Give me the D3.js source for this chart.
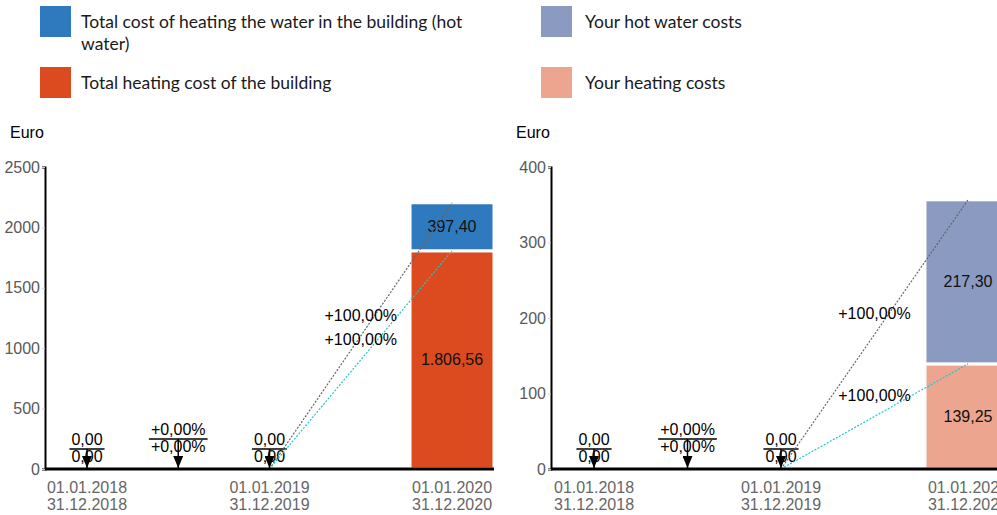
<!DOCTYPE html>
<html>
<head>
<meta charset="utf-8">
<script src="https://cdn.jsdelivr.net/npm/d3@7"></script>
<style>
  body { margin: 0; background: #fff; }
  svg { display: block; }
</style>
</head>
<body>
<div id="chart"></div>
<script>
// Periods on the x axis (two lines per label)
var periodStart = ["01.01.2018", "01.01.2019", "01.01.2020"];
var periodEnd = ["31.12.2018", "31.12.2019", "31.12.2020"];

// Building totals (Euro)
var buildingHeating = [0, 0, 1806.56];
var buildingHotWater = [0, 0, 397.40];

// Your share (Euro)
var yourHeating = [0, 0, 139.25];
var yourHotWater = [0, 0, 217.30];

// Change from one period to the next
var changeTotal = ["+0,00%", "+100,00%"];
var changeHeating = ["+0,00%", "+100,00%"];

// Y ticks
var buildingTicks = [0, 500, 1000, 1500, 2000, 2500];
var yourTicks = [0, 100, 200, 300, 400];

// Legend
var legendLeft = [
    ["Total cost of heating the water in the building (hot", "water)"],
    ["Total heating cost of the building"]
];
var legendRight = [["Your hot water costs"], ["Your heating costs"]];

var width = 997, height = 515;
var axisFamily = "'Liberation Sans', Arial, Helvetica, sans-serif";

var de = d3.formatLocale({decimal: ",", thousands: ".", grouping: [3], currency: ["", " €"]});
var money = de.format(",.2f");

var svg = d3.select("#chart").append("svg")
    .attr("width", width)
    .attr("height", height);

// apply the chart's text style
function axisText(sel, color) {
    return sel.attr("font-family", axisFamily)
        .attr("font-size", 16)
        .style("font-family", axisFamily)
        .style("font-size", "16px")
        .style("fill", color || "#000");
}

// arrow head used by the zero markers
svg.append("defs").append("marker")
    .attr("id", "arrow")
    .attr("viewBox", "0 0 12 10")
    .attr("refX", 12)
    .attr("refY", 5)
    .attr("markerWidth", 12)
    .attr("markerHeight", 10)
    .attr("markerUnits", "userSpaceOnUse")
    .attr("orient", "auto")
    .append("path")
    .attr("d", "M0,0L12,5L0,10Z")
    .attr("fill", "#000");

// ---- legend ----
function drawLegend(x, gap, labels, colors) {
    var rowY = [6, 67];
    labels.forEach(function(lines, i) {
        svg.append("rect")
            .attr("x", x)
            .attr("y", rowY[i])
            .attr("width", 31)
            .attr("height", 31)
            .attr("fill", colors[i]);
        var t = svg.append("text")
            .attr("x", x + gap)
            .attr("y", rowY[i] + 22)
            .style("font-family", "Lato, 'Noto Sans', sans-serif")
            .style("font-size", "17.5px")
            .style("fill", "#1a1a1a");
        lines.forEach(function(l, j) {
            t.append("tspan")
                .attr("x", x + gap)
                .attr("dy", j === 0 ? 0 : 22)
                .text(l);
        });
    });
}
drawLegend(40, 41, legendLeft, ["#2f7abf", "#dc4a1f"]);
drawLegend(541, 44, legendRight, ["#8a9ac0", "#eca58f"]);

// ---- charts ----
var slots = ["p0", "c0", "p1", "c1", "p2"];
var periodSlots = ["p0", "p1", "p2"];

function drawChart(opt) {
    var heating = opt.heating, hot = opt.hot;
    var totals = heating.map(function(h, i) { return h + hot[i]; });

    var y = d3.scaleLinear()
        .domain([0, d3.max(opt.ticks)])
        .range([469, 167]);
    var x = d3.scaleBand()
        .domain(slots)
        .range(opt.xRange)
        .paddingInner(0.08)
        .paddingOuter(0);
    var cx = function(s) { return x(s) + x.bandwidth() / 2; };

    var g = svg.append("g");

    // y axis
    var yAxis = g.append("g")
        .attr("transform", "translate(" + opt.xRange[0] + ",0)")
        .call(d3.axisLeft(y).tickValues(opt.ticks).tickFormat(d3.format("d"))
            .tickSize(3).tickPadding(2));
    yAxis.select(".domain").attr("stroke", "#000").attr("stroke-width", 2);
    yAxis.selectAll(".tick line").attr("stroke", "#ccc");
    axisText(yAxis.selectAll(".tick text"), "#595959");

    axisText(g.append("text")
        .attr("x", opt.xRange[0] - 35)
        .attr("y", 138)
        .text("Euro"));

    // bars (heating at the bottom, hot water on top)
    periodSlots.forEach(function(s, i) {
        if (totals[i] === 0) return;
        var segs = [
            {v0: 0, v1: heating[i], color: opt.colors[1]},
            {v0: heating[i], v1: totals[i], color: opt.colors[0]}
        ];
        segs.forEach(function(d) {
            g.append("rect")
                .attr("x", x(s))
                .attr("y", y(d.v1))
                .attr("width", x.bandwidth())
                .attr("height", y(d.v0) - y(d.v1))
                .attr("fill", d.color)
                .attr("stroke", "#fff")
                .attr("stroke-width", 3);
            axisText(g.append("text")
                .attr("x", cx(s))
                .attr("y", (y(d.v0) + y(d.v1)) / 2)
                .attr("dy", "0.35em")
                .style("text-anchor", "middle")
                .text(money(d.v1 - d.v0)), "#111");
        });
    });

    // fraction-like marker: top / line / bottom with an arrow to the axis
    function fraction(xc, lineY, top, bottom) {
        var tTop = axisText(g.append("text")
            .attr("x", xc).attr("y", lineY - 4)
            .style("text-anchor", "middle")
            .text(top));
        axisText(g.append("text")
            .attr("x", xc).attr("y", lineY + 13)
            .style("text-anchor", "middle")
            .text(bottom));
        var half = tTop.node().getComputedTextLength() / 2 + 2;
        g.append("line")
            .attr("x1", xc - half).attr("x2", xc + half)
            .attr("y1", lineY).attr("y2", lineY)
            .attr("stroke", "#000").attr("stroke-width", 1.5);
        g.append("line")
            .attr("x1", xc).attr("x2", xc)
            .attr("y1", lineY).attr("y2", y(0) - 1)
            .attr("stroke", "#000").attr("stroke-width", 1.5)
            .attr("marker-end", "url(#arrow)");
    }

    periodSlots.forEach(function(s, i) {
        if (totals[i] === 0) fraction(cx(s), y(0) - 20, money(hot[i]), money(heating[i]));
    });

    // changes between periods
    ["c0", "c1"].forEach(function(s, i) {
        var a = periodSlots[i], b = periodSlots[i + 1];
        if (totals[i + 1] === 0) {
            fraction(cx(s), y(0) - 30, changeTotal[i], changeHeating[i]);
            return;
        }
        var lines = [
            {from: totals[i], to: totals[i + 1], color: "#666", label: changeTotal[i]},
            {from: heating[i], to: heating[i + 1], color: "#25c6c6", label: changeHeating[i]}
        ];
        lines.forEach(function(d) {
            g.append("line")
                .attr("x1", cx(a)).attr("y1", y(d.from))
                .attr("x2", cx(b)).attr("y2", y(d.to))
                .attr("stroke", d.color)
                .attr("stroke-width", 1.2)
                .attr("stroke-dasharray", "2,1.5");
        });
        lines.forEach(function(d) {
            axisText(g.append("text")
                .attr("x", cx(s))
                .attr("y", (y(d.from) + y(d.to)) / 2 - 15)
                .style("text-anchor", "middle")
                .text(d.label));
        });
    });

    // x axis
    var xAxis = g.append("g")
        .attr("transform", "translate(0," + y(0) + ")")
        .call(d3.axisBottom(x).tickValues(periodSlots).tickSize(0).tickPadding(0));
    xAxis.select(".domain")
        .attr("d", "M" + opt.xRange[0] + ",0H" + opt.xRange[1])
        .attr("stroke", "#000").attr("stroke-width", 3);
    xAxis.selectAll(".tick text").each(function(s, i) {
        var t = axisText(d3.select(this).text(null).attr("dy", null).attr("y", null), "#666");
        t.append("tspan").attr("x", 0).attr("y", 24).text(periodStart[i]);
        t.append("tspan").attr("x", 0).attr("y", 41).text(periodEnd[i]);
    });
}

drawChart({
    xRange: [45, 494],
    ticks: buildingTicks,
    heating: buildingHeating,
    hot: buildingHotWater,
    colors: ["#2f7abf", "#dc4a1f"]
});
drawChart({
    xRange: [551, 1011],
    ticks: yourTicks,
    heating: yourHeating,
    hot: yourHotWater,
    colors: ["#8a9ac0", "#eca58f"]
});
</script>
</body>
</html>
